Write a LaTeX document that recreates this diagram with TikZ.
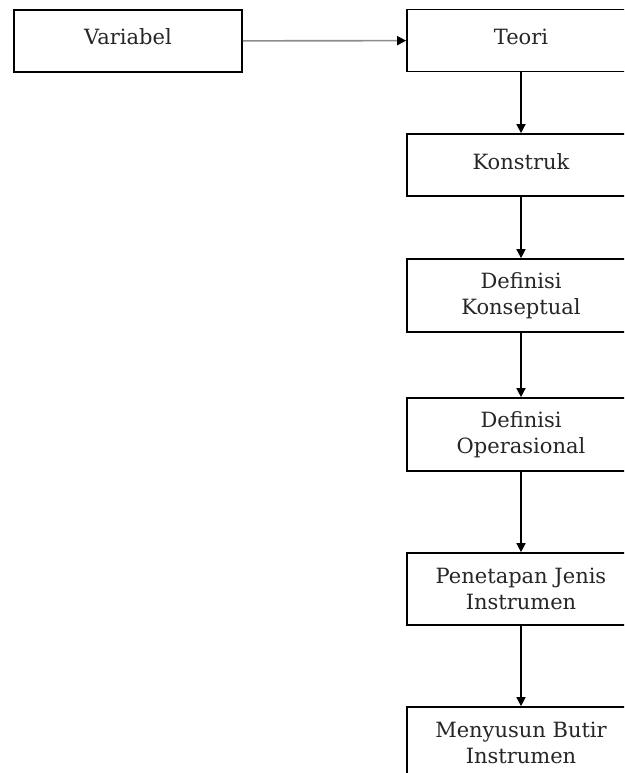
\documentclass[tikz,border=0pt]{standalone}
\usepackage{fontspec}
\setmainfont{DejaVu Serif}
\usetikzlibrary{arrows.meta}
\begin{document}
\begin{tikzpicture}[x=1pt,y=-1pt,
  boxnode/.style={draw=black,line width=1.7pt,minimum width=228pt,inner sep=0pt,
    align=center,font=\fontsize{21}{26}\selectfont,text=black!85},
  onel/.style={boxnode,minimum height=62pt},
  twol/.style={boxnode,minimum height=73pt},
  arr/.style={line width=1.5pt,-{Triangle[length=9pt,width=9pt]}},
  garr/.style={draw=black!45,line width=1.6pt,-{Triangle[length=9pt,width=9pt,fill=black,color=black]}}]
\clip (0,0) rectangle (624,773);
\fill[white] (0,0) rectangle (624,773);
\node[onel] (var) at (128,41) {\raisebox{8pt}{Variabel}};
\node[onel] (teori) at (521,40.5) {\raisebox{8pt}{Teori}};
\node[onel] (kons) at (521,165) {\raisebox{7pt}{Konstruk}};
\node[twol] (konsep) at (521,295.5) {Definisi\\Konseptual};
\node[twol] (oper) at (521,434.5) {Definisi\\Operasional};
\node[boxnode,minimum height=72pt] (penet) at (521,589) {Penetapan Jenis\\Instrumen};
\node[boxnode,minimum height=72pt] (butir) at (521,743) {Menyusun Butir\\Instrumen};
\draw[garr] (var) -- (teori);
\draw[arr] (teori) -- (kons);
\draw[arr] (kons) -- (konsep);
\draw[arr] (konsep) -- (oper);
\draw[arr] (oper) -- (penet);
\draw[arr] (penet) -- (butir);
\end{tikzpicture}
\end{document}
